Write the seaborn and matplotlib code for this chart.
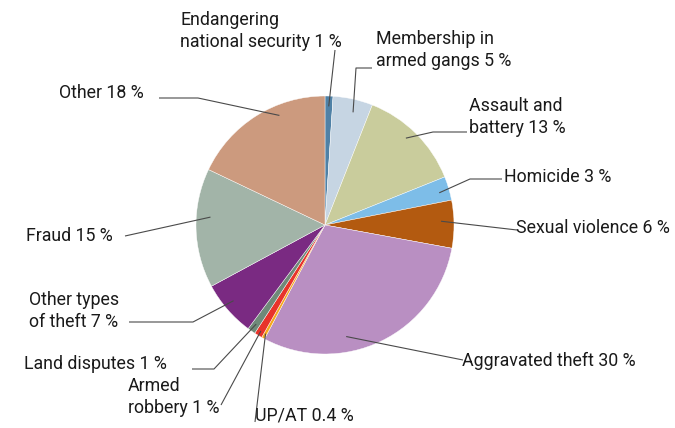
import numpy as np
import matplotlib
matplotlib.use("Agg")
import matplotlib.pyplot as plt
import seaborn as sns

# ---- data ----
categories = ["Endangering\nnational security", "Membership in\narmed gangs", "Assault and\nbattery",
              "Homicide", "Sexual violence", "Aggravated theft", "UP/AT", "Armed\nrobbery",
              "Land disputes", "Other types\nof theft", "Fraud", "Other"]
values = [1, 5, 13, 3, 6, 30, 0.4, 1, 1, 7, 15, 18]
value_labels = ["1 %", "5 %", "13 %", "3 %", "6 %", "30 %", "0.4 %", "1 %", "1 %", "7 %", "15 %", "18 %"]
colors = ["#4f81a6", "#c6d5e3", "#c9cc9c", "#7dbde8", "#b35a10", "#b98fc2",
          "#f5a81c", "#e8332a", "#6f8a79", "#7a2a82", "#a2b4a8", "#cc9a7e"]

sns.set_style("white")
plt.rcParams['font.family'] = ['Roboto', 'DejaVu Sans']

W, H = 675, 428
fig = plt.figure(figsize=(W / 100, H / 100), dpi=100)
ax = fig.add_axes([0, 0, 1, 1])

cx, cy, R = 325, H - 225, 129
palette = sns.color_palette(colors)
wedges, _ = ax.pie(values, colors=palette, startangle=90, counterclock=False,
                   center=(cx, cy), radius=R,
                   wedgeprops=dict(edgecolor="white", linewidth=0.3))
ax.set_xlim(0, W)
ax.set_ylim(0, H)
ax.set_aspect("auto")
ax.axis("off")

# layout: (fraction within wedge, radial fraction, path points (top-down px), text x, text y, ha)
layout = [
    (0.5, 0.92, [(335, 50)], 180, 31, "left"),
    (0.42, 0.90, [(356, 68), (372, 68)], 376, 50, "left"),
    (0.54, 0.92, [(433, 132), (467, 132)], 469, 117, "left"),
    (0.43, 0.92, [(470, 179), (502, 179)], 504, 177, "left"),
    (0.57, 0.90, [(517, 230)], 516, 228, "left"),
    (0.36, 0.88, [(463, 360)], 462, 361, "left"),
    (0.5, 0.96, [(255, 422)], 255, 416, "left"),
    (0.5, 0.96, [(221, 405)], 219, 397, "right"),
    (0.5, 0.935, [(214, 369), (192, 369)], 167, 364, "right"),
    (0.45, 0.92, [(193, 322), (129, 322)], 119, 311, "right"),
    (0.4, 0.89, [(125, 236)], 113, 236, "right"),
    (0.35, 0.92, [(198, 98), (159, 98)], 144, 93, "right"),
]

for w, cat, vl, (frac, rf, pts, tx, ty, ha) in zip(wedges, categories, value_labels, layout):
    th = np.deg2rad(w.theta1 + frac * (w.theta2 - w.theta1))
    ax0 = cx + rf * R * np.cos(th)
    ay0 = cy + rf * R * np.sin(th)
    xs = [ax0] + [p[0] for p in pts]
    ys = [ay0] + [H - p[1] for p in pts]
    ax.plot(xs, ys, color="#4a4a4a", lw=0.8, solid_capstyle="butt")
    ax.text(tx, H - ty, f"{cat} {vl}", ha=ha, va="center", ma="left",
            fontsize=12.8, color="#1a1a1a", linespacing=1.3)

fig.savefig("out.png", dpi=100)
